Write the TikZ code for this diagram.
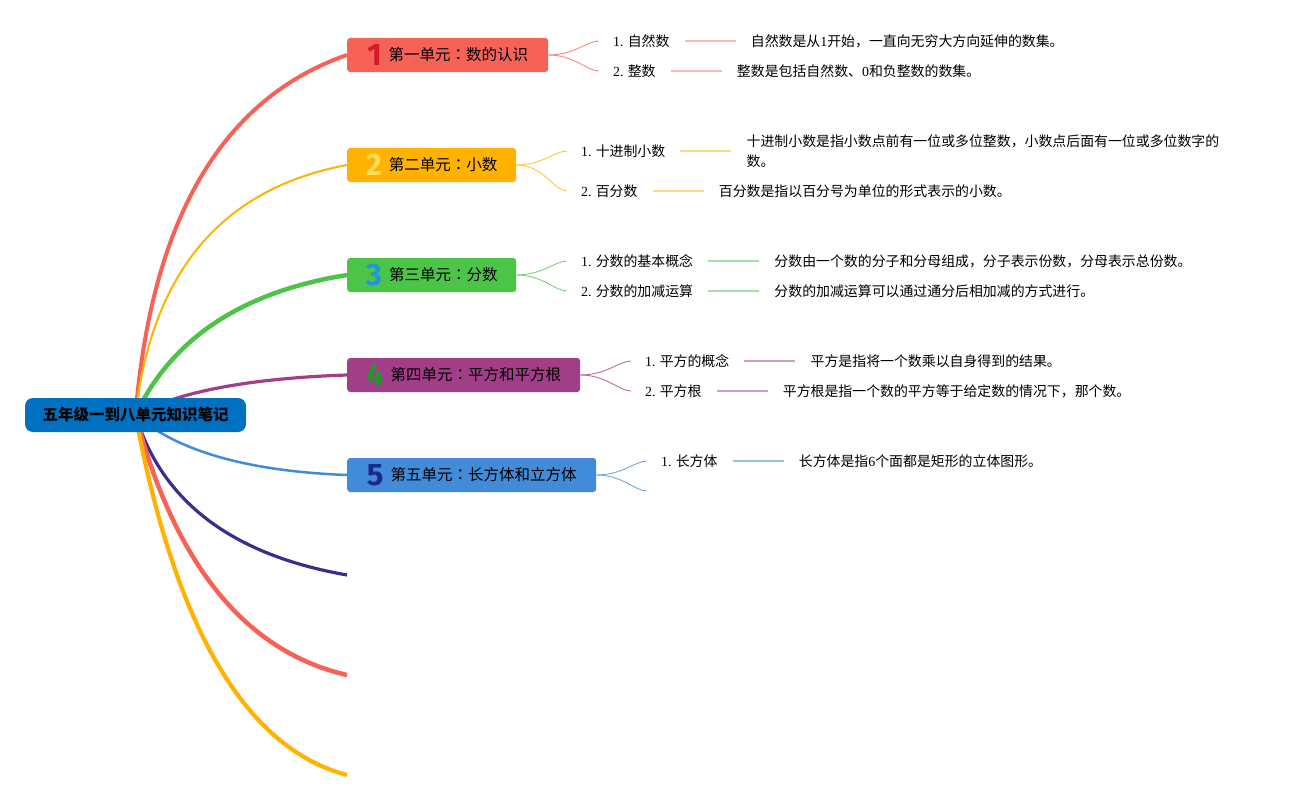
\documentclass[tikz,border=0pt]{standalone}
\usepackage{fontspec}
\setmainfont{Noto Sans CJK SC}
\newfontfamily\latn{Liberation Serif}
\newfontfamily\numfont{Fira Sans}
\newfontfamily\tcfont{Noto Sans CJK TC}
\usetikzlibrary{positioning,backgrounds}

\definecolor{rootblue}{RGB}{0,112,192}
\definecolor{c1}{RGB}{246,98,86}
\definecolor{c2}{RGB}{255,178,0}
\definecolor{c3}{RGB}{76,196,72}
\definecolor{c4}{RGB}{162,62,136}
\definecolor{c5}{RGB}{66,139,217}
\definecolor{c6}{RGB}{62,44,140}
\definecolor{n1}{RGB}{215,25,45}
\definecolor{n2}{RGB}{255,222,90}
\definecolor{n3}{RGB}{30,150,225}
\definecolor{n4}{RGB}{35,150,45}
\definecolor{n5}{RGB}{30,40,140}

\newcommand\unitnum[2]{\smash{\raisebox{-5pt}{\numfont\bfseries\fontsize{31}{31}\selectfont\color{#1}#2}}\hspace{7pt}}
\newcommand\colonmark{{\tcfont ：}}

\tikzset{
  ubox/.style={fill=#1, rounded corners=3pt, minimum height=34pt, inner sep=0pt,
    anchor=west, font=\fontsize{15.5}{18}\selectfont},
  topic/.style={anchor=west, inner sep=0pt, font=\fontsize{13.9}{20}\selectfont},
  detail/.style={inner sep=0pt, align=left, font=\fontsize{13.9}{20}\selectfont},
  trunk/.style={line width=#1},
  sub/.style={draw=#1, line width=0.9pt, shorten >=14pt},
  link/.style={draw=#1, line width=1.2pt, shorten <=15pt, shorten >=15pt}
}

\begin{document}
\begin{tikzpicture}[x=1pt,y=-1pt]
\useasboundingbox (0,0) rectangle (1305,800);

% centre
\node (root) [fill=rootblue, rounded corners=8pt, minimum width=221pt, minimum height=34pt,
  inner sep=0pt, font=\bfseries\fontsize{15.5}{18}\selectfont] at (135.5,415) {五年级一到八单元知识笔记};

% units
\node (u1) [ubox=c1, minimum width=201pt] at (347,55)  {\unitnum{n1}{1}第一单元\colonmark 数的认识};
\node (u2) [ubox=c2, minimum width=169pt] at (347,165) {\unitnum{n2}{2}第二单元\colonmark 小数};
\node (u3) [ubox=c3, minimum width=169pt] at (347,275) {\unitnum{n3}{3}第三单元\colonmark 分数};
\node (u4) [ubox=c4, minimum width=233pt] at (347,375) {\unitnum{n4}{4}第四单元\colonmark 平方和平方根};
\node (u5) [ubox=c5, minimum width=249pt] at (347,475) {\unitnum{n5}{5}第五单元\colonmark 长方体和立方体};
\coordinate (e6) at (347,575);
\coordinate (e7) at (347,675);
\coordinate (e8) at (347,775);

\begin{scope}[on background layer]
\draw[trunk=4pt, c1]   (root.center) .. controls (151.7,218.3) and (222.3,98.3) .. (u1.west);
\draw[trunk=2pt, c2]   (root.center) .. controls (151.7,271.7) and (222.3,188.3) .. (u2.west);
\draw[trunk=4.5pt, c3] (root.center) .. controls (171.7,338.3) and (242.3,291.7) .. (u3.west);
\draw[trunk=3.2pt, c4] (root.center) .. controls (178.3,391.7) and (249,378.3) .. (u4.west);
\draw[trunk=2.5pt, c5] (root.center) .. controls (178.3,451.7) and (249,471.3) .. (u5.west);
\draw[trunk=3.2pt, c6] (root.center) .. controls (161.7,501.7) and (232.3,555) .. (e6);
\draw[trunk=4.5pt, c1] (root.center) .. controls (175,565) and (245.7,651.7) .. (e7);
\draw[trunk=4.2pt, c2] (root.center) .. controls (175,628.3) and (245.7,748.3) .. (e8);
\end{scope}

% unit 1
\node (t11) [topic] at (613,41) {{\latn 1.} 自然数};
\node (t12) [topic] at (613,71) {{\latn 2.} 整数};
\node (d11) [detail, right=81pt of t11] {自然数是从{\latn 1}开始，一直向无穷大方向延伸的数集。};
\node (d12) [detail, right=81pt of t12] {整数是包括自然数、{\latn 0}和负整数的数集。};
\draw[sub=c1!75] (u1.east) to[out=0,in=180] (t11.west);
\draw[sub=c1!75] (u1.east) to[out=0,in=180] (t12.west);
\draw[link=c1!45] (t11) -- (d11);
\draw[link=c1!45] (t12) -- (d12);

% unit 2
\node (t21) [topic] at (581,151) {{\latn 1.} 十进制小数};
\node (t22) [topic] at (581,191) {{\latn 2.} 百分数};
\node (d21) [detail, right=81pt of t21] {十进制小数是指小数点前有一位或多位整数，小数点后面有一位或多位数字的\\数。};
\node (d22) [detail, right=81pt of t22] {百分数是指以百分号为单位的形式表示的小数。};
\draw[sub=c2!75] (u2.east) to[out=0,in=180] (t21.west);
\draw[sub=c2!75] (u2.east) to[out=0,in=180] (t22.west);
\draw[link=c2!50] (t21) -- (d21);
\draw[link=c2!50] (t22) -- (d22);

% unit 3
\node (t31) [topic] at (581,261) {{\latn 1.} 分数的基本概念};
\node (t32) [topic] at (581,291) {{\latn 2.} 分数的加减运算};
\node (d31) [detail, right=81pt of t31] {分数由一个数的分子和分母组成，分子表示份数，分母表示总份数。};
\node (d32) [detail, right=81pt of t32] {分数的加减运算可以通过通分后相加减的方式进行。};
\draw[sub=c3!75] (u3.east) to[out=0,in=180] (t31.west);
\draw[sub=c3!75] (u3.east) to[out=0,in=180] (t32.west);
\draw[link=c3!50] (t31) -- (d31);
\draw[link=c3!50] (t32) -- (d32);

% unit 4
\node (t41) [topic] at (645,361) {{\latn 1.} 平方的概念};
\node (t42) [topic] at (645,391) {{\latn 2.} 平方根};
\node (d41) [detail, right=81pt of t41] {平方是指将一个数乘以自身得到的结果。};
\node (d42) [detail, right=81pt of t42] {平方根是指一个数的平方等于给定数的情况下，那个数。};
\draw[sub=c4!75] (u4.east) to[out=0,in=180] (t41.west);
\draw[sub=c4!75] (u4.east) to[out=0,in=180] (t42.west);
\draw[link=c4!50] (t41) -- (d41);
\draw[link=c4!50] (t42) -- (d42);

% unit 5
\node (t51) [topic] at (661,461) {{\latn 1.} 长方体};
\coordinate (t52) at (661,491);
\node (d51) [detail, right=81pt of t51] {长方体是指{\latn 6}个面都是矩形的立体图形。};
\draw[sub=c5!75] (u5.east) to[out=0,in=180] (t51.west);
\draw[sub=c5!75] (u5.east) to[out=0,in=180] (t52);
\draw[link=c5!55] (t51) -- (d51);
\end{tikzpicture}
\end{document}
